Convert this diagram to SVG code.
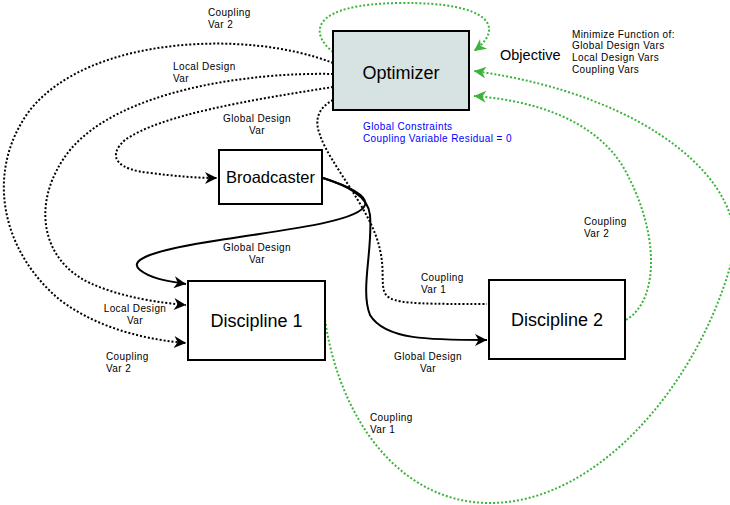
<svg xmlns="http://www.w3.org/2000/svg" width="730" height="505" viewBox="0 0 730 505">
<style>
.box{stroke:#000;stroke-width:2;fill:#fff}
.opt{fill:#d6e3e2}
.big{font-family:"Liberation Sans",Arial,sans-serif;font-size:18px;fill:#000;text-anchor:middle}
.lbl{font-family:"Liberation Sans",Arial,sans-serif;font-size:10px;letter-spacing:0.4px;fill:#000}
.mid{text-anchor:middle}
.blue{fill:#0000ff}
.dk{fill:none;stroke:#000;stroke-width:2;stroke-dasharray:2 2}
.gr{fill:none;stroke:#3cb43c;stroke-width:2;stroke-dasharray:2 2}
.sol{fill:none;stroke:#000;stroke-width:2}
</style>
<defs>
<marker id="ab" viewBox="0 0 10 10" markerWidth="14" markerHeight="12" refX="10" refY="5" orient="auto" markerUnits="userSpaceOnUse"><path d="M0,0 L10,5 L0,10 L3,5 z" fill="#000"/></marker>
<marker id="ag" viewBox="0 0 10 10" markerWidth="14" markerHeight="12" refX="10" refY="5" orient="auto" markerUnits="userSpaceOnUse"><path d="M0,0 L10,5 L0,10 L3,5 z" fill="#3cb43c"/></marker>
</defs>
<g id="connectors">
<path class="gr" d="M333,52 C308,32 312,4 400,3 C492,2 505,28 474,51" marker-end="url(#ag)"/>
<path class="gr" d="M626,320 C660,300 660,230 622,165 C592,118 530,100 474,96" marker-end="url(#ag)"/>
<path class="gr" d="M325,320 C340,420 400,503 490,503 C600,503 700,380 732,260 C752,185 650,95 474,71" marker-end="url(#ag)"/>
<path class="dk" d="M333,63 C250,30 90,35 30,110 C-15,170 0,250 60,300 C100,330 150,340 186,343" marker-end="url(#ab)"/>
<path class="dk" d="M333,74 C250,72 120,90 70,150 C30,200 40,260 90,283 C120,297 160,303 186,305" marker-end="url(#ab)"/>
<path class="dk" d="M333,87 C250,100 160,115 125,140 C105,158 120,170 150,173 C175,176 195,178 217,178" marker-end="url(#ab)"/>
<path class="dk" d="M333,100 C318,108 314,120 320,135 C330,165 372,210 380,250 C386,275 378,292 390,298 C400,304 430,304 487,304"/>
<path class="sol" d="M323,178 C345,185 368,195 365,205 C360,220 300,228 220,240 C140,252 130,262 140,270 C150,278 165,281 186,284" marker-end="url(#ab)"/>
<path class="sol" d="M323,178 C345,185 368,195 370,215 C373,250 360,290 370,315 C385,340 430,340 487,340" marker-end="url(#ab)"/>
</g>
<g id="optimizer">
<rect class="box opt" x="333" y="31" width="136" height="79"/>
<text class="big" x="401" y="79">Optimizer</text>
</g>
<g id="broadcaster">
<rect class="box" x="219" y="150" width="103" height="54"/>
<text class="big" x="270.5" y="183" style="font-size:16.5px">Broadcaster</text>
</g>
<g id="discipline1">
<rect class="box" x="188" y="281" width="137" height="79"/>
<text class="big" x="256.5" y="327">Discipline 1</text>
</g>
<g id="discipline2">
<rect class="box" x="489" y="280" width="136" height="79"/>
<text class="big" x="557" y="326">Discipline 2</text>
</g>
<g id="labels">
<text class="lbl" x="208" y="16">Coupling</text>
<text class="lbl" x="208" y="28">Var 2</text>
<text class="lbl" x="173" y="70">Local Design</text>
<text class="lbl" x="173" y="82">Var</text>
<text class="lbl mid" x="257" y="122">Global Design</text>
<text class="lbl mid" x="257" y="134">Var</text>
<text class="lbl mid" x="257" y="251">Global Design</text>
<text class="lbl mid" x="257" y="263">Var</text>
<text class="lbl mid" x="135" y="312">Local Design</text>
<text class="lbl mid" x="135" y="324">Var</text>
<text class="lbl" x="106" y="360">Coupling</text>
<text class="lbl" x="106" y="372">Var 2</text>
<text class="lbl" x="421" y="281">Coupling</text>
<text class="lbl" x="421" y="293">Var 1</text>
<text class="lbl mid" x="428" y="360">Global Design</text>
<text class="lbl mid" x="428" y="372">Var</text>
<text class="lbl" x="584" y="225">Coupling</text>
<text class="lbl" x="584" y="237">Var 2</text>
<text class="lbl" x="370" y="421">Coupling</text>
<text class="lbl" x="370" y="433">Var 1</text>
<text class="lbl blue" x="363" y="130">Global Constraints</text>
<text class="lbl blue" x="363" y="142">Coupling Variable Residual = 0</text>
<text x="500" y="60" style="font-family:'Liberation Sans',Arial,sans-serif;font-size:14.5px;fill:#000">Objective</text>
<text class="lbl" x="572" y="38">Minimize Function of:</text>
<text class="lbl" x="572" y="49">Global Design Vars</text>
<text class="lbl" x="572" y="61">Local Design Vars</text>
<text class="lbl" x="572" y="73">Coupling Vars</text>
</g>
</svg>
